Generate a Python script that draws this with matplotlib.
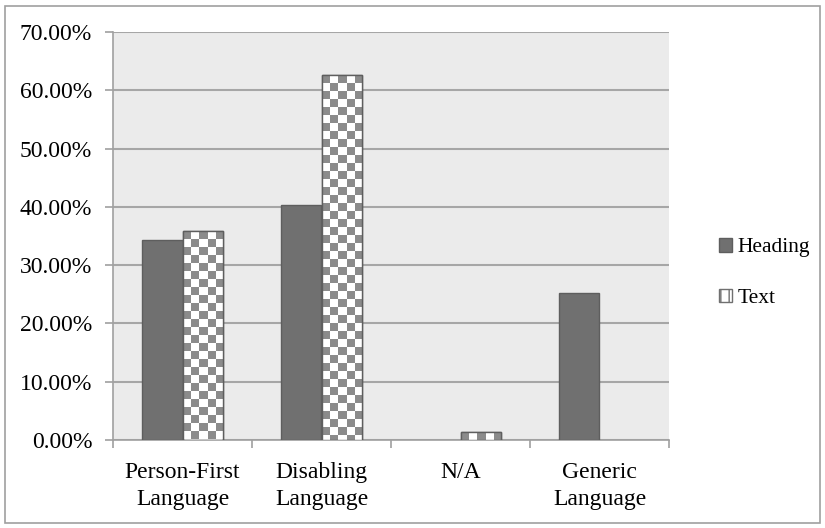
import numpy as np
import matplotlib.pyplot as plt
from matplotlib.patches import Patch, Rectangle

# donnees
categories = ["Person-First\nLanguage", "Disabling\nLanguage", "N/A", "Generic\nLanguage"]
heading = [34.3, 40.3, 0.0, 25.3]
text = [35.8, 62.6, 1.3, 0.0]
yticks = [0, 10, 20, 30, 40, 50, 60, 70]

plt.rcParams['font.family'] = ['Liberation Serif', 'DejaVu Serif']
fs = 17

fig = plt.figure(figsize=(8.25, 5.28), dpi=100)
# cadre gris autour de tout le graphique
fig.patches.append(Rectangle((5 / 825, 5 / 528), 815 / 825, 517 / 528, transform=fig.transFigure,
                             facecolor='none', edgecolor='#a0a0a0', lw=1.2))

ax = fig.add_axes([113 / 825, 88 / 528, 556 / 825, 408 / 528])
ax.set_facecolor('#ebebeb')

x = np.arange(len(categories))
w = 0.288
b1 = ax.bar(x - w / 2, heading, w, color='#707070', edgecolor='#5e5e5e', lw=1, zorder=3)
b2 = ax.bar(x + w / 2, text, w, color='white', edgecolor='#5e5e5e', lw=1, zorder=3)
# pas de trait pour les barres vides
for bar in list(b1) + list(b2):
    if bar.get_height() <= 0:
        bar.set_visible(False)

ax.set_xlim(-0.5, len(categories) - 0.5)
ax.set_ylim(0, 70)
ax.set_yticks(yticks)
ax.set_yticklabels([f"{v:.2f}%" for v in yticks], fontsize=fs)
ax.set_xticks(np.arange(len(categories) + 1) - 0.5)
ax.set_xticklabels([])
ax.set_xticks(x, minor=True)
ax.set_xticklabels(categories, minor=True, fontsize=fs, linespacing=1.35)
ax.tick_params(axis='x', which='minor', length=0, pad=16)
ax.tick_params(axis='x', which='major', length=6, color='#a0a0a0', width=1.2)
ax.tick_params(axis='y', length=6, color='#a0a0a0', width=1.2, pad=9)

ax.grid(axis='y', color='#a6a6a6', lw=1.5, zorder=0)
ax.set_axisbelow(True)
for s in ['top', 'right']:
    ax.spines[s].set_visible(False)
for s in ['left', 'bottom']:
    ax.spines[s].set_color('#a0a0a0')
    ax.spines[s].set_linewidth(1.2)

# motif damier pour les barres "Text" (cases de ~8 px)
px_y = 408 / 70.0
for bar in b2:
    h = bar.get_height()
    if h <= 0:
        continue
    nrows = max(1, int(round(h * px_y / 8.0)))
    ncols = 5
    board = np.indices((nrows, ncols)).sum(axis=0) % 2
    im = ax.imshow(board, cmap='gray', vmin=-1.2, vmax=1, interpolation='nearest', aspect='auto',
                   extent=(bar.get_x(), bar.get_x() + bar.get_width(), h - nrows * 8.0 / px_y, h),
                   zorder=3.5, origin='upper')
    im.set_clip_path(bar)
    ax.add_patch(Rectangle((bar.get_x(), 0), bar.get_width(), h, facecolor='none',
                           edgecolor='#5e5e5e', lw=1, zorder=4))
ax.set_xlim(-0.5, len(categories) - 0.5)
ax.set_ylim(0, 70)

handles = [Patch(facecolor='#707070', edgecolor='#5e5e5e'),
           Patch(facecolor='white', edgecolor='#707070', hatch='||')]
fig.legend(handles, ['Heading', 'Text'], loc='center left', bbox_to_anchor=(719 / 825, 1 - 273 / 528),
           frameon=False, fontsize=15.5, handlelength=0.6, handleheight=0.6, handletextpad=0.25,
           labelspacing=1.45, borderpad=0, borderaxespad=0)

fig.savefig('out.png', dpi=100)
